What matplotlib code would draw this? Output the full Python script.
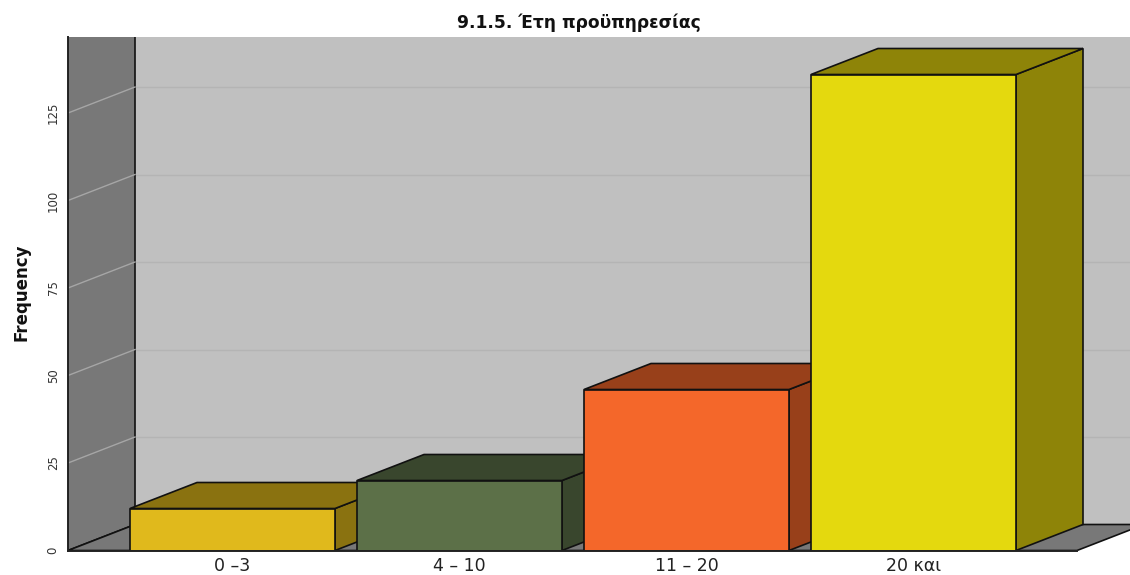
#!/usr/bin/env python3
"""9.1.5 - years of service, pseudo-3D bars as the stats package draws them."""
import matplotlib
matplotlib.use("Agg")
import matplotlib.pyplot as plt

categories = ["0 –3", "4 – 10", "11 – 20", "20 και"]
frequency = [12, 20, 46, 136]
front_colors = ["#e0b91c", "#5c7048", "#f4672a", "#e4d90e"]
shade_colors = ["#8a7210", "#39462d", "#98401a", "#8e8408"]
y_ticks = [0, 25, 50, 75, 100, 125]

BAR_W = 205 / 227
DEPTH_X = 67 / 227  # depth offset in category units
DEPTH_Y = 26 / 3.5  # depth offset in frequency units
X_MIN, X_MAX = (68 - 232.5) / 227, (1130 - 232.5) / 227
Y_MAX = (550.5 - 37) / 3.5
LAST_X = 3 + BAR_W / 2 + (1077 - 1016) / 227  # front right end of the floor

EDGE = "#111111"


def poly(ax, xs, ys, color, z, edge=EDGE, lw=1.2):
    ax.fill(xs, ys, facecolor=color, edgecolor=edge, linewidth=lw, zorder=z,
            joinstyle="miter")


fig = plt.figure(figsize=(11.3, 5.75), dpi=100)
ax = fig.add_axes([68 / 1130, 1 - 550.5 / 575, (1130 - 68) / 1130, (550.5 - 37) / 575])
ax.set_xlim(X_MIN, X_MAX)
ax.set_ylim(0, Y_MAX)
ax.set_facecolor("white")

# back wall, side wall, floor
back = X_MIN + DEPTH_X
ax.fill([back, X_MAX, X_MAX, back], [DEPTH_Y, DEPTH_Y, Y_MAX, Y_MAX],
        color="#c0c0c0", lw=0, zorder=1)
poly(ax, [X_MIN, back, back, X_MIN], [0, DEPTH_Y, Y_MAX + 5, Y_MAX + 5], "#787878", 2)
poly(ax, [X_MIN, back, LAST_X + DEPTH_X, LAST_X], [0, DEPTH_Y, DEPTH_Y, 0], "#787878", 2)

for t in y_ticks[1:] + [150]:
    ax.plot([back, X_MAX], [t + DEPTH_Y, t + DEPTH_Y], color="#b4b4b4", lw=1.0, zorder=1.5)
    ax.plot([X_MIN, back], [t, t + DEPTH_Y], color="#a6a6a6", lw=1.0, zorder=2.5)

for i, (val, fc, sc) in enumerate(zip(frequency, front_colors, shade_colors)):
    l, r = i - BAR_W / 2, i + BAR_W / 2
    z = 3 + i
    poly(ax, [r, r + DEPTH_X, r + DEPTH_X, r], [0, DEPTH_Y, val + DEPTH_Y, val], sc, z)
    poly(ax, [l, l + DEPTH_X, r + DEPTH_X, r], [val, val + DEPTH_Y, val + DEPTH_Y, val], sc, z)
    poly(ax, [l, r, r, l], [0, 0, val, val], fc, z)

for name in ["top", "right", "bottom"]:
    ax.spines[name].set_visible(False)
ax.spines["left"].set_linewidth(1.4)
ax.spines["left"].set_color("#222222")
ax.plot([X_MIN, LAST_X], [0, 0], color="#222222", lw=1.4, zorder=10, clip_on=False)

ax.set_xticks(range(len(categories)))
ax.set_xticklabels(categories, fontsize=12.5, color="#222222")
ax.set_yticks(y_ticks)
ax.set_yticklabels(y_ticks, rotation=90, va="center", fontsize=8.5, color="#333333")
ax.tick_params(axis="both", length=0)
ax.tick_params(axis="x", pad=5)
ax.tick_params(axis="y", pad=6)

fig.text(579 / 1130, 1 - 23 / 575, "9.1.5. Έτη προϋπηρεσίας", ha="center", va="center",
         fontsize=12.3, fontweight="bold", color="#111111")
fig.text(22 / 1130, 1 - 292 / 575, "Frequency", rotation=90, ha="center", va="center",
         fontsize=12, fontweight="bold", color="#111111")

fig.savefig("out.png", dpi=100)
